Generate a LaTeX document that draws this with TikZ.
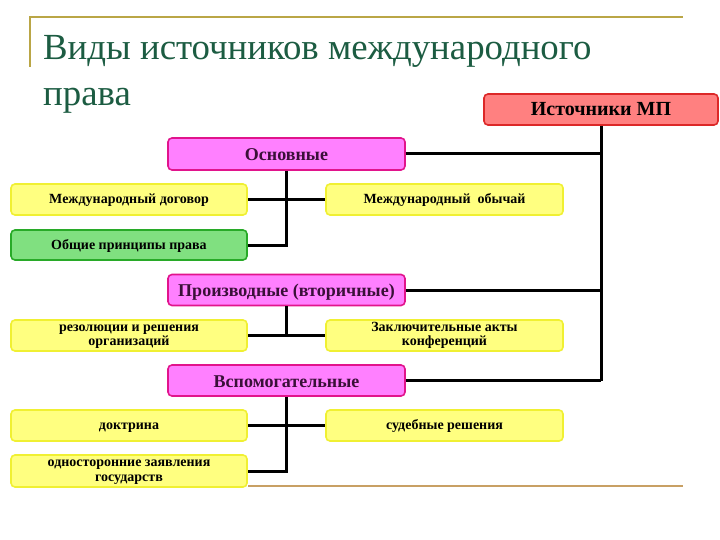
\documentclass[tikz,border=0pt]{standalone}
\usepackage{fontspec}
\setmainfont{Liberation Serif}
\definecolor{titlegreen}{RGB}{28,92,66}
\definecolor{frameolive}{RGB}{186,166,70}
\definecolor{frametan}{RGB}{200,160,100}
\definecolor{redfill}{RGB}{255,128,128}
\definecolor{reddraw}{RGB}{220,40,40}
\definecolor{pinkfill}{RGB}{255,128,255}
\definecolor{pinkdraw}{RGB}{225,20,140}
\definecolor{yelfill}{RGB}{255,255,128}
\definecolor{yeldraw}{RGB}{240,240,50}
\definecolor{grnfill}{RGB}{128,224,128}
\definecolor{grndraw}{RGB}{40,170,40}
\definecolor{darkpurple}{RGB}{58,16,56}
\newcommand{\twolines}[2]{\setlength{\tabcolsep}{0pt}\renewcommand{\arraystretch}{0.9}\begin{tabular}{c}#1\\#2\end{tabular}}
\begin{document}
\begin{tikzpicture}[x=1pt,y=-1pt,
  box/.style={rectangle,rounded corners=4pt,line width=1.6pt,inner sep=1pt,align=center,font=\bfseries},
  rootbox/.style={box,fill=redfill,draw=reddraw,minimum width=234pt,minimum height=31pt,text height=15pt,text depth=2pt,font=\fontsize{20}{22}\selectfont\bfseries},
  catbox/.style={box,fill=pinkfill,draw=pinkdraw,minimum width=237pt,minimum height=31pt,text height=15pt,text depth=2pt,text=darkpurple,font=\fontsize{18}{20}\selectfont\bfseries},
  leafbase/.style={box,fill=yelfill,draw=yeldraw,minimum width=236pt,minimum height=31pt,font=\fontsize{14}{16}\selectfont\bfseries},
  leafbox/.style={leafbase,text height=11pt,text depth=3pt},
  greenbox/.style={box,fill=grnfill,draw=grndraw,minimum width=236pt,minimum height=30pt,text height=11pt,text depth=3pt,font=\fontsize{14}{16}\selectfont\bfseries},
  conn/.style={line width=3pt,black},
  frameline/.style={line width=2pt}]
\useasboundingbox (0,0) rectangle (720,540);
\fill[white] (0,0) rectangle (720,540);
% frame lines
\coordinate (ftl) at (30,17);
\coordinate (ftr) at (683,17);
\coordinate (fbl) at (30,67);
\coordinate (bbl) at (248,486);
\coordinate (bbr) at (683,486);
\draw[frameline,frameolive] (fbl) -- (ftl) -- (ftr);
\draw[frameline,frametan] (bbl) -- (bbr);
% title
\node[anchor=base west,inner sep=0pt,text=titlegreen,font=\fontsize{36.8}{40}\selectfont] (t1) at (43,60) {Виды источников международного};
\node[anchor=base west,inner sep=0pt,text=titlegreen,font=\fontsize{36.8}{40}\selectfont] (t2) at (43,106) {права};
% nodes
\node[rootbox] (src) at (601,109.5) {Источники МП};
\node[catbox,minimum height=32pt] (osn) at (286.5,154) {Основные};
\node[leafbox] (md) at (129,199.5) {Международный договор};
\node[leafbox,minimum width=237pt] (mo) at (444.5,199.5) {Международный\ \ обычай};
\node[greenbox] (opp) at (129,245) {Общие принципы права};
\node[catbox] (proizv) at (286.5,290) {Производные (вторичные)};
\node[leafbase] (rez) at (129,335.5) {\twolines{резолюции и решения}{организаций}};
\node[leafbase,minimum width=237pt] (zak) at (444.5,335.5) {\twolines{Заключительные акты}{конференций}};
\node[catbox] (vsp) at (286.5,380.5) {Вспомогательные};
\node[leafbox] (dok) at (129,425.5) {доктрина};
\node[leafbox,minimum width=237pt] (sud) at (444.5,425.5) {судебные решения};
\node[leafbase,minimum height=32pt] (odn) at (129,471) {\twolines{односторонние заявления}{государств}};
% connectors
\draw[conn] (src.south) -- (src.south |- vsp.east);
\draw[conn] (osn.east) -- (osn.east -| src.south);
\draw[conn] (proizv.east) -- (proizv.east -| src.south);
\draw[conn] (vsp.east) -- (vsp.east -| src.south);
\draw[conn] (osn.south) -- (osn.south |- opp.east) -- (opp.east);
\draw[conn] (md.east) -- (mo.west);
\draw[conn] (proizv.south) -- (proizv.south |- rez.east);
\draw[conn] (rez.east) -- (zak.west);
\draw[conn] (vsp.south) -- (vsp.south |- odn.east) -- (odn.east);
\draw[conn] (dok.east) -- (sud.west);
\end{tikzpicture}
\end{document}
